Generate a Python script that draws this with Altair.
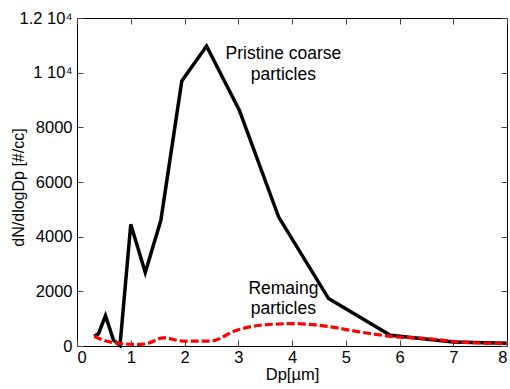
import altair as alt
import pandas as pd

# Pristine coarse particles (black solid line)
pristine_dp = [0.32, 0.40, 0.53, 0.68, 0.80, 1.00, 1.27, 1.56, 1.95, 2.41, 3.02, 3.75, 4.68, 5.83, 7.00, 8.00]
pristine_n = [355, 450, 1110, 210, 20, 4450, 2690, 4600, 9700, 10975, 8630, 4725, 1735, 390, 150, 100]

# Remaining particles (red dashed line)
remain_dp = [0.32, 0.49, 0.74, 1.11, 1.30, 1.61, 1.98, 2.48, 2.97, 3.41, 4.03, 4.65, 5.27, 5.83, 6.51, 7.13, 8.00]
remain_n = [355, 210, 110, 60, 90, 300, 180, 180, 575, 760, 820, 720, 510, 355, 270, 145, 90]

# Annotations
label_text = ["Pristine coarse", "particles", "Remaing", "particles"]
label_x = [3.84, 3.84, 3.84, 3.84]
label_y = [10680, 9910, 2080, 1345]

x_ticks = [0, 1, 2, 3, 4, 5, 6, 7, 8]
y_ticks = [0, 2000, 4000, 6000, 8000, 10000, 12000]

df_p = pd.DataFrame({"dp": pristine_dp, "n": pristine_n})
df_r = pd.DataFrame({"dp": remain_dp, "n": remain_n})
df_t = pd.DataFrame({"dp": label_x, "n": label_y, "t": label_text})

FONT = "Liberation Sans"
xdom = alt.Scale(domain=[0, 8], nice=False, zero=False)
ydom = alt.Scale(domain=[0, 12000], nice=False, zero=False)

def tick_axis(orient):
    return alt.Axis(orient=orient, values=x_ticks if orient in ("top", "bottom") else y_ticks,
                    labels=False, title=None, domain=False, grid=False,
                    ticks=True, tickSize=6, offset=-6, tickColor="#444", tickWidth=1)

black = alt.Chart(df_p).mark_line(color="black", strokeWidth=3.5, strokeJoin="miter").encode(
    x=alt.X("dp:Q", scale=xdom,
            axis=alt.Axis(orient="bottom", values=x_ticks, title="Dp[µm]", domain=False, grid=False,
                          ticks=False, labelPadding=3, titlePadding=1, labelFontSize=16.5,
                          titleFontSize=16.5, titleFontWeight="normal", labelColor="black",
                          titleColor="black", labelFont=FONT, titleFont=FONT)),
    y=alt.Y("n:Q", scale=ydom,
            axis=alt.Axis(orient="left", values=y_ticks, format="d", title="dN/dlogDp [#/cc]",
                          labelExpr="datum.value == 12000 ? '1.2 10⁴' : datum.value == 10000 ? '1 10⁴' : datum.label",
                          domain=False, grid=False, ticks=False, labelPadding=5,
                          titleX=-59, titleY=169, titleAngle=270, titleAlign="center",
                          titleBaseline="middle",
                          labelFontSize=16.5, titleFontSize=16, titleFontWeight="normal",
                          labelColor="black", titleColor="black", labelFont=FONT, titleFont=FONT)),
)

red = alt.Chart(df_r).mark_line(color="#ff0000", strokeWidth=3.2, strokeDash=[8, 3],
                                interpolate="monotone").encode(
    x=alt.X("dp:Q", scale=xdom, axis=tick_axis("bottom")),
    y=alt.Y("n:Q", scale=ydom, axis=tick_axis("left")),
)

text = alt.Chart(df_t).mark_text(font=FONT, fontSize=17.5, color="black", align="center",
                                 baseline="middle").encode(
    x=alt.X("dp:Q", scale=xdom, axis=tick_axis("top")),
    y=alt.Y("n:Q", scale=ydom, axis=tick_axis("right")),
    text="t:N",
)

chart = alt.layer(black, red, text).resolve_scale(x="independent", y="independent").properties(
    width=430, height=328,
    autosize=alt.AutoSizeParams(type="none"),
    padding={"left": 77, "top": 18, "right": 3, "bottom": 43},
    background="white",
).configure_view(stroke="black", strokeWidth=1)

chart.save("out.html", embed_options={"renderer": "svg", "actions": False})
